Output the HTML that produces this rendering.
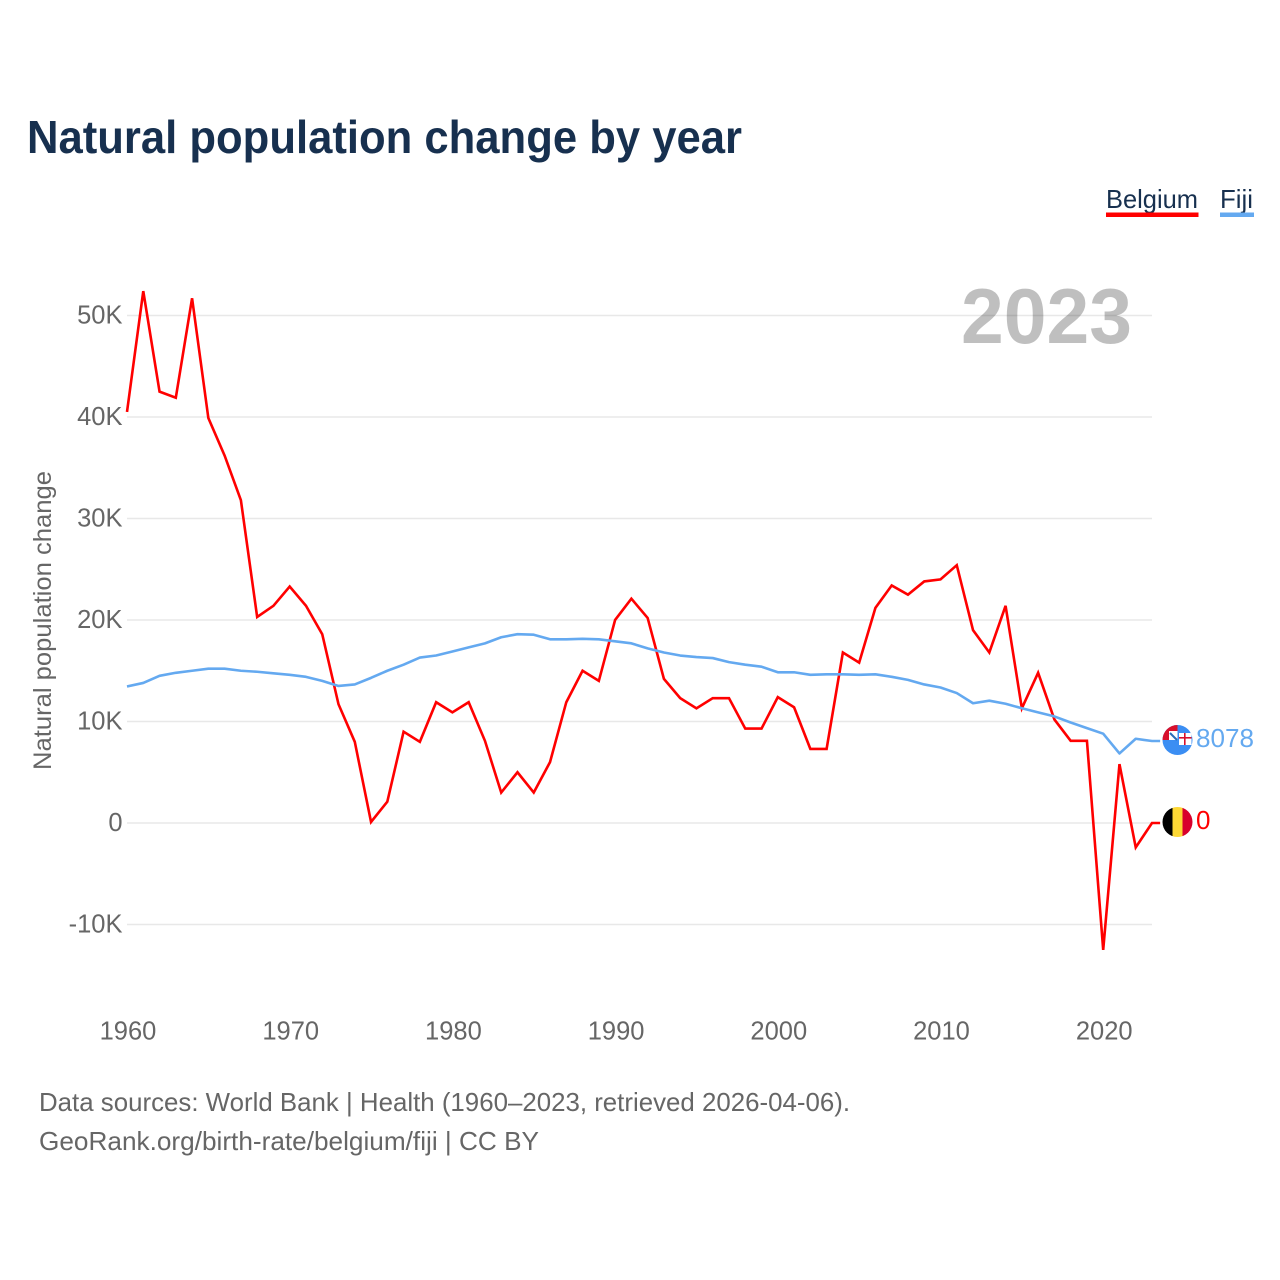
<!DOCTYPE html>
<html lang="en">
<head>
<meta charset="utf-8">
<title>Natural population change by year</title>
<style>
html,body{margin:0;padding:0;background:#fff;width:1280px;height:1280px;overflow:hidden}
svg{display:block}
text{font-family:"Liberation Sans",sans-serif}
</style>
</head>
<body>
<svg id="chart" xmlns="http://www.w3.org/2000/svg" width="1280" height="1280" viewBox="0 0 1280 1280">
  <text x="27" y="153" font-size="46" font-weight="700" fill="#17304f" textLength="715" lengthAdjust="spacingAndGlyphs">Natural population change by year</text>

  <g>
    <g>
      <text x="1106" y="208" font-size="26" fill="#17304f" textLength="92" lengthAdjust="spacingAndGlyphs">Belgium</text>
      <rect x="1106" y="212.5" width="92.5" height="4.5" fill="#ff0000"/>
    </g>
    <g>
      <text x="1220" y="208" font-size="26" fill="#17304f" textLength="33" lengthAdjust="spacingAndGlyphs">Fiji</text>
      <rect x="1220" y="212.5" width="34" height="4.5" fill="#64a9f0"/>
    </g>
  </g>

  <g id="grid"></g>
  <g id="yticks"></g>
  <g id="xticks"></g>

  <text transform="translate(51,770) rotate(-90)" x="0" y="0" font-size="25" fill="#666666" textLength="299" lengthAdjust="spacingAndGlyphs">Natural population change</text>

  <text x="961" y="343" font-size="78" font-weight="700" fill="#000000" fill-opacity="0.25" textLength="171" lengthAdjust="spacingAndGlyphs">2023</text>

  <g id="series"></g>

  <defs>
    <clipPath id="fiji-clip"><circle cx="1177.5" cy="740" r="15"/></clipPath>
    <clipPath id="belgium-clip"><circle cx="1177.5" cy="822" r="15"/></clipPath>
  </defs>

  <g clip-path="url(#fiji-clip)">
    <rect x="1162" y="725" width="31" height="31" fill="#3b8ef3"/>
    <rect x="1162" y="725" width="15.5" height="15" fill="#d8102c"/>
    <rect x="1169" y="731" width="8.5" height="9" fill="#ffffff"/>
    <path d="M1170 733 L1177 740" stroke="#2a6db8" stroke-width="2" fill="none"/>
    <rect x="1179" y="733" width="12.5" height="12" fill="#ffffff"/>
    <rect x="1184" y="733" width="1.6" height="12" fill="#d8102c"/>
    <rect x="1179" y="737" width="12.5" height="1.6" fill="#d8102c"/>
  </g>
  <g clip-path="url(#belgium-clip)">
    <rect x="1162" y="807" width="10.5" height="30" fill="#000000"/>
    <rect x="1172.5" y="807" width="10" height="30" fill="#fdd835"/>
    <rect x="1182.5" y="807" width="11" height="30" fill="#d8002c"/>
  </g>

  <text id="fiji-end" x="1196" y="747" font-size="26" fill="#64a9f0" textLength="58" lengthAdjust="spacingAndGlyphs"></text>
  <text id="belgium-end" x="1196" y="829" font-size="26" fill="#ff0000"></text>

  <g>
    <text x="39" y="1111" font-size="26" fill="#666666" textLength="811" lengthAdjust="spacingAndGlyphs">Data sources: World Bank | Health (1960–2023, retrieved 2026-04-06).</text>
    <text x="39" y="1150" font-size="26" fill="#666666" textLength="500" lengthAdjust="spacingAndGlyphs">GeoRank.org/birth-rate/belgium/fiji | CC BY</text>
  </g>
</svg>

<script>
var firstYear = 1960;
var belgiumValues = [40.5,52.4,42.5,41.9,51.7,39.9,36.2,31.8,20.3,21.4,23.3,21.4,18.6,11.7,8.0,0.1,2.1,9.0,8.0,11.9,10.9,11.9,8.1,3.0,5.0,3.0,6.0,11.9,15.0,14.0,20.0,22.1,20.2,14.2,12.3,11.3,12.3,12.3,9.3,9.3,12.4,11.4,7.3,7.3,16.8,15.8,21.2,23.4,22.5,23.8,24.0,25.4,19.0,16.8,21.4,11.3,14.8,10.2,8.1,8.1,-12.5,5.8,-2.4,0];
var fijiValues = [13.45,13.8,14.5,14.8,15.0,15.2,15.2,15.0,14.9,14.75,14.6,14.4,14.0,13.5,13.65,14.3,15.0,15.6,16.3,16.5,16.9,17.3,17.7,18.3,18.6,18.55,18.1,18.1,18.15,18.1,17.9,17.7,17.2,16.8,16.5,16.35,16.25,15.85,15.6,15.4,14.85,14.85,14.6,14.65,14.65,14.6,14.65,14.4,14.1,13.65,13.35,12.8,11.8,12.05,11.75,11.3,10.9,10.5,9.9,9.35,8.8,6.85,8.3,8.078];
var yTickValues = [-10,0,10,20,30,40,50];
var yTickLabels = ["-10K","0","10K","20K","30K","40K","50K"];
var xTickYears = [1960,1970,1980,1990,2000,2010,2020];
var belgiumEndLabel = "0";
var fijiEndLabel = "8078";

var NS = "http://www.w3.org/2000/svg";
function xScale(year){ return 127 + (year - 1960) * 16.27; }
function yScale(v){ return 823 - v * 10.15; }

var grid = document.getElementById('grid');
var yticks = document.getElementById('yticks');
yTickValues.forEach(function(v, i){
  var line = document.createElementNS(NS, 'line');
  
  
  line.setAttribute('x1', 127);
  line.setAttribute('x2', 1152);
  line.setAttribute('y1', yScale(v));
  line.setAttribute('y2', yScale(v));
  line.setAttribute('stroke', '#e8e8e8');
  line.setAttribute('stroke-width', '1.4');
  grid.appendChild(line);

  var t = document.createElementNS(NS, 'text');
  
  
  t.setAttribute('x', 122.5);
  t.setAttribute('y', yScale(v) + 8);
  t.setAttribute('text-anchor', 'end');
  t.setAttribute('font-size', '25.5');
  t.setAttribute('fill', '#666666');
  t.textContent = yTickLabels[i];
  yticks.appendChild(t);
});

var xticks = document.getElementById('xticks');
xTickYears.forEach(function(year){
  var t = document.createElementNS(NS, 'text');
  
  
  t.setAttribute('x', xScale(year) + 1);
  t.setAttribute('y', 1039.5);
  t.setAttribute('text-anchor', 'middle');
  t.setAttribute('font-size', '25.5');
  t.setAttribute('fill', '#666666');
  t.textContent = String(year);
  xticks.appendChild(t);
});

function linePoints(values){
  var pts = values.map(function(v, i){
    return xScale(firstYear + i).toFixed(2) + ',' + yScale(v).toFixed(2);
  });
  var lastY = yScale(values[values.length - 1]);
  pts.push(xScale(firstYear + values.length - 1 + 0.5).toFixed(2) + ',' + lastY.toFixed(2));
  return pts.join(' ');
}

var series = document.getElementById('series');

var belgiumLine = document.createElementNS(NS, 'polyline');


belgiumLine.setAttribute('points', linePoints(belgiumValues));
belgiumLine.setAttribute('fill', 'none');
belgiumLine.setAttribute('stroke', '#ff0000');
belgiumLine.setAttribute('stroke-width', '2.6');
belgiumLine.setAttribute('stroke-linejoin', 'miter');
series.appendChild(belgiumLine);

var fijiLine = document.createElementNS(NS, 'polyline');


fijiLine.setAttribute('points', linePoints(fijiValues));
fijiLine.setAttribute('fill', 'none');
fijiLine.setAttribute('stroke', '#64a9f0');
fijiLine.setAttribute('stroke-width', '2.6');
fijiLine.setAttribute('stroke-linejoin', 'round');
series.appendChild(fijiLine);

document.getElementById('fiji-end').textContent = fijiEndLabel;
document.getElementById('belgium-end').textContent = belgiumEndLabel;
</script>
</body>
</html>
